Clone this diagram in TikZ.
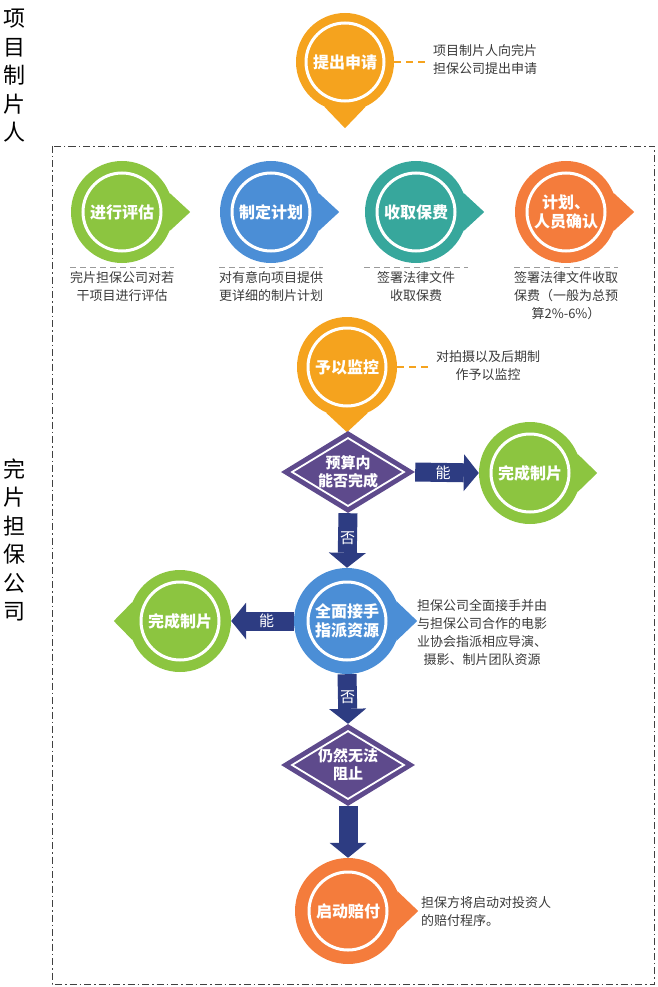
\documentclass[tikz,border=0pt]{standalone}
\usepackage{fontspec}
\setmainfont{Noto Sans CJK SC}
\usetikzlibrary{shapes.geometric,arrows.meta,calc}
\definecolor{cOrY}{HTML}{F5A31E}
\definecolor{cGreen}{HTML}{8CC540}
\definecolor{cBlue}{HTML}{4B8ED6}
\definecolor{cTeal}{HTML}{37A79C}
\definecolor{cOrange}{HTML}{F47C3C}
\definecolor{cPurple}{HTML}{5E4A8C}
\definecolor{cNavy}{HTML}{2D3C82}
\definecolor{cText}{HTML}{3A3A3A}
\definecolor{cSep}{HTML}{9A9A9A}
\begin{document}
\begin{tikzpicture}[x=1pt,y=-1pt,
  bubble/.style={circle, fill=#1, minimum size=102pt, inner sep=0pt, text=white,
    font=\fontsize{16}{19.5}\selectfont\bfseries, align=center,
    path picture={\draw[white, line width=3pt] (path picture bounding box.center) circle[radius=39pt];}},
  decision/.style={diamond, aspect=1.6, fill=cPurple, minimum width=134pt, minimum height=82pt, inner sep=0pt,
    text=white, font=\fontsize{15}{18}\selectfont\bfseries, align=center,
    path picture={\draw[white, line width=1.8pt]
      ([yshift=-7pt]path picture bounding box.north) -- ([xshift=-11pt]path picture bounding box.east) --
      ([yshift=7pt]path picture bounding box.south) -- ([xshift=11pt]path picture bounding box.west) -- cycle;}},
  barrow/.style={draw=cNavy, line width=19pt, -{Triangle[length=15pt, width=37pt, line width=0pt]}},
  alabel/.style={text=white, font=\fontsize{15}{17}\selectfont},
  desc/.style={text=cText, font=\fontsize{13}{18}\selectfont, inner sep=0pt},
  sepline/.style={draw=cSep, line width=1pt, dash pattern=on 6pt off 4pt},
  linkline/.style={draw=cOrY, line width=1.2pt, dash pattern=on 7pt off 5pt},
  frame/.style={draw=black!75, line width=0.9pt, dash pattern=on 7pt off 3pt on 1.5pt off 3pt},
  side/.style={align=center, font=\fontsize{22}{28.5}\selectfont, text=black}
]
\useasboundingbox (0,0) rectangle (657,987);

% side labels
\node[side] (sideA) at (14,76) {项\\目\\制\\片\\人};
\node[side] (sideB) at (14,540) {完\\片\\担\\保\\公\\司};

% frame
\draw[frame] (52,146) rectangle (654,984);

% top: apply
\node[bubble=cOrY, minimum size=98pt] (apply) at (345,62) {提出申请};
\fill[cOrY] (apply.-65) -- ([yshift=-17pt]apply.south) -- (apply.-115) -- cycle;
\coordinate (applyL) at (430,62);
\draw[linkline] (apply.east) -- (applyL);
\node[desc, anchor=west, align=left] (applyD) at (433,60) {项目制片人向完片\\担保公司提出申请};

% row of four
\node[bubble=cGreen] (eval) at (122,212) {进行评估};
\node[bubble=cBlue] (plan) at (271,212) {制定计划};
\node[bubble=cTeal] (fee) at (416,212) {收取保费};
\node[bubble=cOrange] (conf) at (566,212) {计划、\\人员确认};
\foreach \n/\c in {eval/cGreen, plan/cBlue, fee/cTeal, conf/cOrange}{
  \fill[\c] (\n.22) -- ([xshift=17pt]\n.east) -- (\n.-22) -- cycle;
  \draw[sepline] ($(\n)+(-52,55)$) -- ($(\n)+(52,55)$);
}
\node[desc, anchor=north, align=center] (evalD) at (122,271) {完片担保公司对若\\干项目进行评估};
\node[desc, anchor=north, align=center] (planD) at (271,271) {对有意向项目提供\\更详细的制片计划};
\node[desc, anchor=north, align=center] (feeD) at (416,271) {签署法律文件\\收取保费};
\node[desc, anchor=north, align=center] (confD) at (566,271) {签署法律文件收取\\保费（一般为总预\\算2\%-6\%）};

% monitor
\node[bubble=cOrY, minimum size=100pt] (mon) at (347,367) {予以监控};
\fill[cOrY] (mon.-65) -- ([yshift=-15pt]mon.south) -- (mon.-115) -- cycle;
\coordinate (monL) at (430,367);
\draw[linkline] (mon.east) -- (monL);
\node[desc, align=center] (monD) at (488,366) {对拍摄以及后期制\\作予以监控};

% decision 1
\node[decision] (d1) at (348,472) {预算内\\能否完成};
\node[bubble=cGreen] (done1) at (530,473) {完成制片};
\fill[cGreen] (done1.22) -- ([xshift=16pt]done1.east) -- (done1.-22) -- cycle;
\draw[barrow] (d1.east) -- (done1.west) node[midway, alabel, xshift=-4pt] {能};

% take over
\node[bubble=cBlue, minimum size=106pt] (take) at (347,621) {全面接手\\指派资源};
\fill[cBlue] (take.22) -- ([xshift=17pt]take.east) -- (take.-22) -- cycle;
\draw[barrow] (d1.south) -- (take.north) node[midway, alabel, yshift=2pt] {否};
\node[desc, align=center] (takeD) at (482,632) {担保公司全面接手并由\\与担保公司合作的电影\\业协会指派相应导演、\\摄影、制片团队资源};

\node[bubble=cGreen] (done2) at (180,621) {完成制片};
\fill[cGreen] (done2.158) -- ([xshift=-15pt]done2.west) -- (done2.202) -- cycle;
\draw[barrow] (take.west) -- (done2.east) node[midway, alabel, xshift=4pt] {能};

% decision 2
\node[decision] (d2) at (348,765) {仍然无法\\阻止};
\draw[barrow] (take.south) -- (d2.north) node[midway, alabel, yshift=2pt] {否};

% payout
\node[bubble=cOrange, minimum size=106pt] (pay) at (348,911) {启动赔付};
\fill[cOrange] (pay.22) -- ([xshift=17pt]pay.east) -- (pay.-22) -- cycle;
\draw[barrow] (d2.south) -- (pay.north);
\node[desc, anchor=west, align=left] (payD) at (421,912) {担保方将启动对投资人\\的赔付程序。};
\end{tikzpicture}
\end{document}
